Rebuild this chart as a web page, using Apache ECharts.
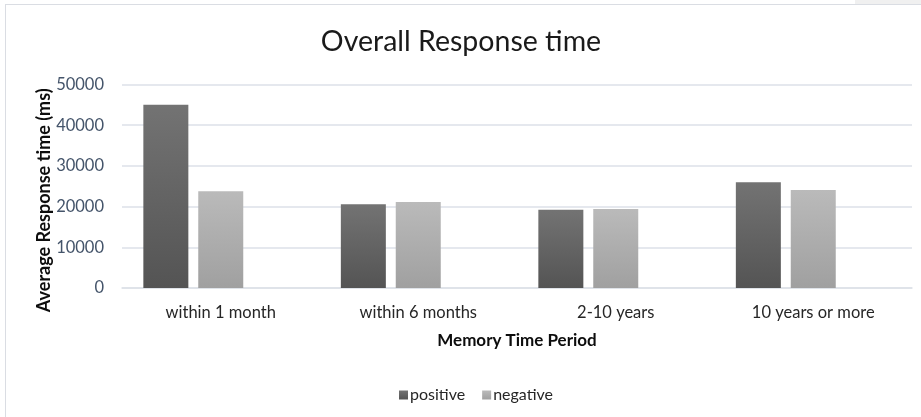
<!DOCTYPE html>
<html>
<head>
<meta charset="utf-8">
<script src="https://cdn.jsdelivr.net/npm/echarts@6/dist/echarts.min.js"></script>
<style>
  html, body { margin: 0; padding: 0; background: #ffffff; }
  #chart { width: 921px; height: 417px; }
</style>
</head>
<body>
<div id="chart"></div>
<script>
// Memory time periods on the category axis
const categories = ['within 1 month', 'within 6 months', '2-10 years', '10 years or more'];
// Average response time (ms) per period
const positive = [45000, 20600, 19200, 26000];
const negative = [23800, 21100, 19400, 24100];
// Third slot in each group is reserved but holds no data
const reserved = [null, null, null, null];
const yTicks = { min: 0, max: 50000, interval: 10000 };

const FONT = 'Lato, "Liberation Sans", sans-serif';

function vGrad(top, bottom) {
  return new echarts.graphic.LinearGradient(0, 0, 0, 1, [
    { offset: 0, color: top },
    { offset: 1, color: bottom }
  ]);
}

const chart = echarts.init(document.getElementById('chart'), null, { renderer: 'canvas' });

chart.setOption({
  backgroundColor: '#ffffff',
  animation: false,
  textStyle: { fontFamily: FONT },
  title: {
    text: 'Overall Response time',
    left: 456,
    textAlign: 'center',
    top: 22,
    textStyle: { fontFamily: FONT, fontSize: 28.5, fontWeight: 'normal', color: '#1a1a1a' }
  },
  legend: {
    data: ['positive', 'negative'],
    top: 382,
    left: 394,
    itemWidth: 9,
    itemHeight: 9,
    itemGap: 17,
    icon: 'rect',
    textStyle: { fontFamily: FONT, fontSize: 16, color: '#262626', padding: [0, 0, 0, -3] }
  },
  grid: { left: 122, right: 9, top: 84.5, bottom: 129, containLabel: false },
  xAxis: {
    type: 'category',
    data: categories,
    name: 'Memory Time Period',
    nameLocation: 'middle',
    nameGap: 44,
    nameTextStyle: { fontFamily: FONT, fontSize: 17, fontWeight: 'bold', color: '#0d0d0d' },
    axisLine: { lineStyle: { color: '#dde1e8', width: 1.5 } },
    axisTick: { show: false },
    axisLabel: { fontFamily: FONT, fontSize: 16.5, color: '#262626', margin: 16 }
  },
  yAxis: {
    type: 'value',
    min: yTicks.min,
    max: yTicks.max,
    interval: yTicks.interval,
    name: 'Average Response time (ms)',
    nameLocation: 'middle',
    nameRotate: 90,
    nameGap: 69,
    nameMoveOverlap: false,
    nameTextStyle: {
      fontFamily: FONT, fontSize: 18, fontWeight: 'bold', color: '#0d0d0d',
      padding: [0, 28, 0, 0]
    },
    axisLine: { show: false },
    axisTick: { show: false },
    axisLabel: {
      fontFamily: FONT, fontSize: 16.5, color: '#44546a', margin: 18,
      formatter: function (v) { return String(v); }
    },
    splitLine: { lineStyle: { color: '#dde1e8', width: 1.5 } }
  },
  series: [
    {
      name: 'positive',
      type: 'bar',
      data: positive,
      barWidth: 45,
      barGap: '22%',
      itemStyle: { color: vGrad('#737373', '#545454') }
    },
    {
      name: 'negative',
      type: 'bar',
      data: negative,
      barWidth: 45,
      barGap: '22%',
      itemStyle: { color: vGrad('#bababa', '#a0a0a0') }
    },
    {
      name: 'reserved',
      type: 'bar',
      data: reserved,
      barWidth: 45,
      barGap: '22%',
      itemStyle: { color: 'transparent' }
    }
  ],
  graphic: [
    { type: 'rect', shape: { x: 855, y: 0, width: 66, height: 4 }, style: { fill: '#f0f0f0' }, silent: true },
    { type: 'line', shape: { x1: 5, y1: 4.5, x2: 921, y2: 4.5 }, style: { stroke: '#dadde3', lineWidth: 1 }, silent: true },
    { type: 'line', shape: { x1: 5.5, y1: 4, x2: 5.5, y2: 417 }, style: { stroke: '#dadde3', lineWidth: 1 }, silent: true }
  ]
});
</script>
</body>
</html>
